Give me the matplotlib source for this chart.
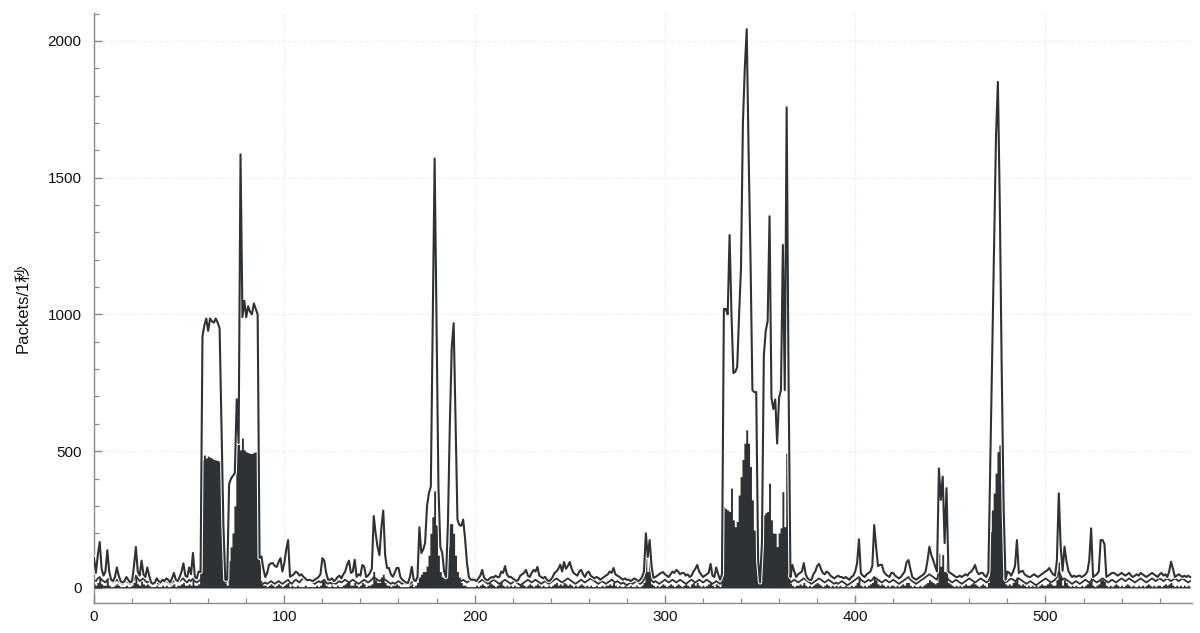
import numpy as np
import matplotlib
matplotlib.use("Agg")
import matplotlib.pyplot as plt
from matplotlib.ticker import MultipleLocator
import matplotlib.patheffects as pe

# ---- data (packets per second) ----
total_packets = [
    110, 55, 120, 168, 70, 45, 60, 138, 60, 30,
    25, 40, 75, 45, 25, 20, 25, 40, 30, 20,
    25, 80, 150, 60, 45, 100, 50, 40, 75, 45,
    20, 15, 20, 35, 25, 20, 30, 25, 35, 30,
    20, 35, 55, 30, 25, 40, 60, 90, 45, 40,
    75, 50, 128, 40, 35, 60, 58, 920, 960, 985,
    940, 985, 975, 970, 985, 970, 950, 600, 230, 30,
    30, 380, 400, 410, 420, 690, 530, 1585, 990, 1050,
    990, 1030, 1010, 1000, 1040, 1020, 1000, 110, 115, 70,
    40, 55, 85, 90, 91, 80, 77, 95, 109, 60,
    90, 140, 175, 41, 45, 50, 60, 55, 45, 50,
    41, 35, 28, 30, 28, 25, 30, 35, 40, 50,
    109, 100, 55, 30, 30, 35, 25, 30, 40, 45,
    35, 50, 60, 85, 100, 55, 60, 103, 40, 50,
    45, 84, 78, 40, 45, 55, 70, 263, 200, 150,
    120, 220, 283, 120, 73, 73, 50, 41, 55, 73,
    73, 40, 30, 25, 20, 18, 40, 77, 30, 25,
    40, 222, 128, 140, 165, 300, 347, 370, 970, 1570,
    970, 370, 150, 128, 60, 40, 240, 600, 880, 968,
    600, 250, 230, 227, 250, 180, 91, 40, 30, 30,
    30, 25, 35, 45, 66, 37, 30, 28, 35, 40,
    38, 45, 40, 40, 60, 55, 80, 50, 40, 41,
    35, 30, 25, 30, 45, 50, 55, 66, 45, 40,
    55, 66, 60, 77, 45, 40, 35, 41, 30, 25,
    30, 40, 55, 60, 70, 85, 60, 95, 70, 80,
    95, 70, 55, 50, 45, 60, 66, 50, 40, 55,
    60, 45, 40, 35, 40, 37, 30, 35, 40, 45,
    50, 60, 55, 73, 50, 45, 41, 35, 30, 35,
    30, 30, 25, 30, 35, 30, 25, 30, 40, 60,
    200, 113, 175, 80, 37, 40, 45, 50, 55, 58,
    50, 45, 40, 50, 60, 55, 66, 60, 50, 55,
    55, 45, 50, 40, 45, 60, 70, 84, 60, 50,
    40, 45, 50, 55, 88, 45, 40, 75, 50, 30,
    50, 1020, 1020, 1000, 1290, 1000, 786, 790, 807, 1000,
    1170, 1700, 1900, 2043, 1590, 1200, 723, 716, 716, 100,
    20, 165, 850, 940, 975, 1359, 696, 654, 689, 528,
    696, 723, 1254, 723, 1757, 751, 40, 84, 60, 40,
    50, 55, 60, 91, 50, 35, 30, 29, 50, 60,
    80, 88, 70, 55, 50, 60, 55, 45, 40, 35,
    40, 45, 40, 40, 35, 40, 35, 30, 40, 45,
    60, 90, 178, 53, 45, 40, 50, 55, 60, 80,
    230, 150, 80, 84, 85, 60, 50, 45, 40, 55,
    55, 45, 40, 35, 40, 50, 60, 94, 102, 70,
    40, 35, 30, 35, 40, 45, 50, 60, 100, 151,
    120, 102, 80, 60, 437, 322, 407, 164, 365, 60,
    55, 50, 45, 40, 40, 45, 40, 45, 50, 45,
    55, 60, 70, 84, 60, 50, 55, 55, 45, 40,
    60, 450, 850, 1250, 1650, 1850, 1400, 800, 300, 30,
    60, 55, 45, 60, 80, 175, 55, 60, 63, 50,
    45, 41, 40, 45, 50, 45, 40, 45, 50, 55,
    60, 65, 73, 60, 50, 45, 100, 346, 150, 63,
    151, 100, 63, 50, 40, 45, 40, 44, 45, 40,
    44, 50, 60, 100, 218, 40, 45, 50, 60, 175,
    175, 160, 40, 45, 50, 55, 55, 50, 45, 50,
    55, 50, 45, 50, 55, 45, 40, 45, 50, 45,
    55, 50, 45, 40, 45, 50, 55, 50, 45, 40,
    50, 55, 45, 50, 40, 60, 96, 70, 40, 45,
    50, 45, 40, 45, 40, 45, 40,
]

impulse_packets = [
    15, 10, 20, 40, 15, 10, 10, 30, 10, 5,
    5, 10, 15, 10, 5, 5, 5, 10, 5, 5,
    10, 20, 40, 15, 10, 25, 15, 10, 15, 10,
    5, 5, 5, 10, 5, 5, 10, 5, 10, 5,
    5, 10, 15, 5, 10, 10, 15, 20, 10, 10,
    15, 10, 30, 10, 10, 15, 212, 468, 486, 475,
    482, 478, 475, 470, 468, 466, 462, 285, 201, 18,
    10, 100, 150, 201, 300, 694, 553, 505, 548, 505,
    498, 495, 492, 492, 495, 498, 498, 114, 18, 10,
    10, 5, 10, 15, 10, 5, 10, 15, 10, 5,
    10, 15, 20, 5, 10, 5, 5, 10, 5, 5,
    5, 10, 5, 5, 5, 5, 5, 10, 5, 10,
    30, 25, 10, 5, 5, 10, 5, 5, 10, 5,
    5, 10, 15, 20, 25, 10, 10, 20, 10, 5,
    10, 20, 15, 5, 10, 10, 15, 60, 30, 20,
    20, 40, 50, 20, 10, 10, 5, 10, 10, 15,
    10, 5, 5, 5, 5, 5, 10, 15, 5, 10,
    20, 40, 50, 60, 60, 80, 120, 200, 260, 355,
    230, 120, 60, 40, 30, 60, 150, 235, 235, 200,
    120, 60, 40, 20, 10, 10, 5, 5, 5, 5,
    5, 10, 5, 10, 15, 10, 5, 10, 20, 15,
    10, 5, 10, 15, 20, 10, 5, 10, 5, 10,
    5, 10, 5, 5, 10, 15, 10, 5, 10, 15,
    10, 5, 10, 15, 10, 5, 10, 5, 5, 10,
    5, 10, 15, 20, 10, 15, 10, 20, 15, 10,
    15, 10, 5, 10, 5, 10, 15, 10, 5, 10,
    5, 10, 5, 5, 10, 5, 5, 10, 5, 10,
    10, 15, 10, 20, 10, 5, 10, 5, 5, 10,
    5, 5, 10, 5, 5, 10, 5, 5, 10, 20,
    120, 60, 100, 15, 10, 5, 10, 5, 10, 15,
    10, 5, 10, 15, 10, 5, 10, 15, 10, 5,
    10, 15, 10, 5, 15, 20, 10, 20, 10, 5,
    10, 5, 10, 15, 20, 10, 5, 15, 10, 5,
    30, 297, 290, 285, 280, 365, 249, 224, 243, 340,
    407, 470, 529, 578, 529, 444, 322, 212, 210, 208,
    18, 164, 267, 275, 280, 383, 249, 201, 200, 151,
    201, 220, 352, 224, 493, 249, 18, 10, 5, 10,
    10, 15, 10, 20, 10, 5, 10, 5, 10, 15,
    20, 15, 10, 5, 10, 15, 10, 5, 10, 5,
    10, 5, 10, 5, 5, 10, 5, 5, 10, 5,
    10, 20, 40, 10, 5, 10, 5, 10, 15, 20,
    40, 30, 15, 10, 15, 10, 5, 10, 5, 10,
    10, 5, 10, 5, 10, 15, 10, 20, 20, 10,
    5, 10, 5, 5, 10, 5, 10, 15, 20, 30,
    25, 20, 15, 20, 128, 80, 122, 60, 100, 20,
    15, 10, 5, 10, 5, 10, 5, 10, 15, 10,
    10, 15, 20, 15, 10, 5, 10, 15, 10, 5,
    20, 206, 285, 347, 420, 498, 523, 383, 249, 15,
    10, 15, 10, 20, 25, 40, 15, 10, 15, 10,
    5, 10, 5, 10, 5, 10, 5, 10, 15, 10,
    10, 15, 20, 15, 10, 10, 30, 96, 40, 10,
    30, 20, 10, 5, 10, 5, 10, 5, 5, 10,
    5, 10, 15, 20, 40, 10, 5, 10, 15, 30,
    30, 25, 10, 5, 10, 5, 10, 15, 10, 5,
    10, 5, 10, 15, 10, 5, 10, 5, 5, 10,
    5, 10, 5, 10, 15, 10, 5, 10, 5, 10,
    10, 5, 10, 15, 10, 15, 20, 10, 5, 10,
    5, 10, 5, 10, 5, 10, 5,
]

low_packets = [
    30, 25, 35, 40, 30, 25, 20, 30, 35, 25,
    20, 25, 30, 25, 20, 15, 20, 25, 20, 15,
    20, 30, 45, 35, 25, 30, 35, 25, 20, 25,
    15, 20, 25, 20, 15, 20, 25, 20, 25, 20,
    15, 20, 25, 30, 20, 25, 30, 35, 25, 20,
    30, 25, 35, 25, 20, 25, 30, 40, 45, 40,
    45, 40, 45, 40, 45, 40, 35, 30, 25, 20,
    25, 30, 35, 30, 40, 45, 40, 45, 40, 45,
    40, 45, 40, 45, 40, 45, 40, 30, 20, 15,
    20, 15, 20, 25, 20, 15, 20, 25, 20, 15,
    20, 25, 30, 20, 15, 25, 30, 25, 20, 30,
    35, 30, 25, 30, 25, 20, 15, 20, 25, 20,
    25, 30, 20, 15, 20, 15, 20, 15, 20, 25,
    20, 25, 30, 25, 20, 25, 30, 25, 20, 15,
    20, 25, 30, 25, 20, 25, 30, 40, 35, 30,
    25, 30, 35, 30, 25, 20, 15, 20, 15, 20,
    25, 20, 15, 20, 15, 20, 15, 20, 30, 35,
    30, 35, 30, 35, 40, 45, 40, 45, 50, 45,
    40, 35, 40, 35, 30, 35, 40, 45, 40, 35,
    30, 35, 30, 25, 30, 25, 20, 25, 30, 35,
    30, 25, 20, 25, 30, 25, 20, 15, 20, 25,
    30, 25, 20, 15, 20, 25, 30, 25, 20, 15,
    20, 25, 20, 15, 10, 15, 20, 25, 30, 25,
    20, 25, 30, 25, 20, 15, 20, 25, 20, 15,
    20, 25, 30, 35, 30, 25, 20, 25, 30, 35,
    30, 25, 20, 15, 20, 25, 30, 25, 20, 25,
    30, 35, 30, 25, 20, 15, 20, 25, 20, 15,
    20, 25, 30, 25, 20, 25, 20, 15, 20, 15,
    10, 15, 20, 15, 20, 25, 20, 15, 20, 30,
    50, 40, 45, 30, 20, 25, 20, 15, 20, 25,
    30, 25, 20, 25, 30, 25, 20, 25, 30, 25,
    20, 15, 20, 25, 30, 25, 20, 25, 30, 25,
    20, 25, 30, 25, 20, 15, 20, 25, 20, 15,
    20, 40, 40, 40, 40, 40, 40, 40, 40, 40,
    40, 40, 40, 40, 40, 40, 40, 40, 40, 30,
    15, 30, 40, 40, 40, 40, 40, 40, 40, 40,
    40, 40, 40, 40, 40, 40, 20, 25, 30, 25,
    20, 25, 30, 35, 30, 25, 20, 15, 20, 25,
    30, 35, 30, 25, 20, 25, 30, 25, 20, 15,
    20, 15, 20, 25, 20, 15, 10, 15, 20, 25,
    30, 35, 40, 30, 25, 20, 25, 30, 25, 30,
    40, 35, 30, 25, 20, 25, 30, 25, 20, 25,
    30, 25, 20, 15, 20, 25, 30, 35, 40, 30,
    25, 20, 15, 20, 25, 30, 35, 40, 45, 50,
    45, 40, 35, 30, 60, 50, 55, 40, 45, 30,
    25, 20, 25, 30, 25, 20, 15, 20, 25, 30,
    35, 30, 25, 20, 25, 30, 35, 30, 25, 20,
    25, 40, 40, 40, 40, 40, 40, 40, 35, 20,
    25, 30, 35, 30, 25, 30, 35, 30, 25, 20,
    15, 20, 25, 20, 15, 10, 15, 20, 25, 30,
    35, 30, 25, 20, 25, 30, 40, 60, 45, 30,
    35, 30, 25, 20, 15, 20, 25, 20, 15, 20,
    25, 30, 25, 20, 25, 30, 25, 20, 25, 30,
    35, 30, 25, 20, 25, 30, 25, 20, 25, 30,
    35, 30, 25, 30, 35, 30, 25, 20, 25, 30,
    35, 30, 25, 20, 25, 30, 35, 30, 25, 30,
    35, 30, 25, 30, 35, 30, 25, 30, 35, 30,
    25, 30, 35, 30, 25, 20, 25,
]

y_label = "Packets/1秒"

# ---- drawing ----
DARK = "#2e3234"
plt.rcParams['font.family'] = ['Liberation Sans', 'Noto Sans CJK JP', 'DejaVu Sans']

n = min(len(total_packets), len(impulse_packets), len(low_packets))
seconds = np.arange(n)
total = np.array(total_packets[:n])
impulse = np.array(impulse_packets[:n])
low = np.array(low_packets[:n])

fig = plt.figure(figsize=(12, 6.33), dpi=100)
ax = fig.add_axes([94 / 1200, 1 - 603 / 633, (1192 - 94) / 1200, (603 - 13) / 633])

halo = [pe.Stroke(linewidth=3.0, foreground="white"), pe.Normal()]
ax.plot(seconds, low, color=DARK, lw=1.3, zorder=2, path_effects=halo)
ax.fill_between(seconds, 0, impulse, step="mid", color=DARK, linewidth=0, zorder=3)
ax.plot(seconds, total, color=DARK, lw=1.5, zorder=4, path_effects=halo)

ax.set_xlim(0, 577)
ax.set_ylim(-55, 2102)

ax.xaxis.set_major_locator(MultipleLocator(100))
ax.xaxis.set_minor_locator(MultipleLocator(20))
ax.yaxis.set_major_locator(MultipleLocator(500))
ax.yaxis.set_minor_locator(MultipleLocator(100))

ax.grid(True, which="major", color="#e6e6e6", linestyle=(0, (1, 1.5)), linewidth=0.9, zorder=0)

for side in ("top", "right"):
    ax.spines[side].set_visible(False)
for side in ("left", "bottom"):
    ax.spines[side].set_color("#8a8a8a")
    ax.spines[side].set_linewidth(1.0)

ax.tick_params(axis="both", which="major", direction="in", length=6, width=1.0,
               color="#8a8a8a", labelsize=11, labelcolor="#111111")
ax.tick_params(axis="both", which="minor", direction="in", length=3.5, width=0.9,
               color="#8a8a8a")
ax.tick_params(axis="y", which="major", pad=9)
ax.tick_params(axis="x", which="major", pad=5)

ax.set_ylabel(y_label, fontsize=12, color="#111111", labelpad=12)

fig.savefig("out.png", dpi=100, facecolor="white")
